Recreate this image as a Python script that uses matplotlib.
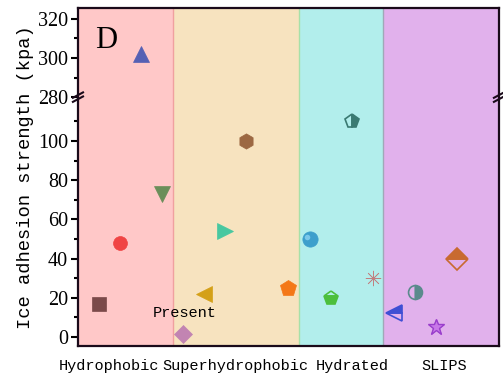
import numpy as np
import matplotlib.pyplot as plt
from matplotlib.ticker import FixedLocator

# data
groups = ['Hydrophobic', 'Superhydrophobic', 'Hydrated', 'SLIPS']
group_bounds = [0, 4.5, 10.5, 14.5, 20]
group_label_x = [1.45, 7.5, 13.05, 17.4]
group_colors = ['#ffc8c8', '#f7e3bf', '#b2eeec', '#e1b1ec']
group_edges = ['#f0a0a0', '#a8e0a8', '#a0a8b8', '#502060']

xs = [1, 2, 3, 4, 5, 6, 7, 8, 10, 11, 12, 13, 14, 15, 16, 17, 18]
vals = [17, 48, 302, 73, 1.5, 22, 54, 100, 25, 50, 20, 110, 30, 12, 23, 5, 40]
markers = ['s', 'o', '^', 'v', 'D', '<', '>', 'h', 'p', 'o', 'p', 'p', (8, 2, 0), '<', 'o', '*', 'D']
colors = ['#7b4a4a', '#f04444', '#5560b4', '#6b8e5a', '#c284b2', '#d4a017', '#48c8a0',
          '#9c6842', '#f47818', '#3d9fcc', '#4cbf3c', '#3a7a72', '#c08080', '#3f4fd4',
          '#5a8a8c', '#a64fd6', '#c86a30']
fills = ['full'] * 10 + ['bottom', 'right', 'full', 'top', 'right', 'full', 'top']
sizes = [10, 10, 11, 11, 9, 12, 12, 11, 12, 11, 10, 10, 11, 11, 10, 12, 11]

# broken axis: 280..325 drawn right above 122.4
brk_low, brk_high = 122.4, 280


def tr(v):
    v = np.asarray(v, dtype=float)
    return np.where(v > brk_low, v - brk_high + brk_low, v)


major = [0, 20, 40, 60, 80, 100, 280, 300, 320]
minor = [10, 30, 50, 70, 90, 110, 290, 310]

mono = 'Liberation Mono'
serif = 'Liberation Serif'

fig = plt.figure(figsize=(5.03, 3.79), dpi=100)
ax = fig.add_axes([0.155, 0.087, 0.837, 0.892])

for i in range(4):
    ax.axvspan(group_bounds[i], group_bounds[i + 1], facecolor=group_colors[i],
               edgecolor='none', zorder=0)
for i in range(1, 4):
    ax.axvline(group_bounds[i], color=group_edges[i - 1], lw=1, zorder=0.5)

ty = tr(vals)
for x, y, m, c, f, s in zip(xs, ty, markers, colors, fills, sizes):
    ax.plot(x, y, marker=m, ms=s, color=c, mfc=c, mec=c, fillstyle=f,
            mfcalt='none', ls='none', mew=1.2 if f != 'full' else 0.5, zorder=3)

# glossy highlight on the sphere
ax.plot(xs[9] - 0.1, ty[9] + 1.2, 'o', ms=4, color='#7cc8ea', mec='none', zorder=4)
# lighter fill for star
ax.plot(xs[15], ty[15], '*', ms=12, mfc='#c878e8', mec='#9a3fcc', mew=1, zorder=4)

ax.text(5.05, 12.5, 'Present', family=mono, fontsize=11, ha='center', va='center')
ax.text(0.8, 151.5, 'D', family=serif, fontsize=22, ha='left', va='center')

ax.set_xlim(0, 20)
ax.set_ylim(-4.6, 167.9)
ax.set_xticks(group_label_x)
ax.set_xticklabels(groups, family=mono, fontsize=11)
ax.tick_params(axis='x', length=0, pad=9)

ax.yaxis.set_major_locator(FixedLocator(tr(major)))
ax.yaxis.set_minor_locator(FixedLocator(tr(minor)))
ax.set_yticklabels([str(v) for v in major], family=serif, fontsize=14.5)
ax.tick_params(axis='y', which='major', length=5, width=1.5, direction='out', pad=2)
ax.tick_params(axis='y', which='minor', length=3, width=1.5, direction='out')
ax.set_ylabel('Ice adhesion strength (kpa)', family=mono, fontsize=13.5, labelpad=3)

for side in ['left', 'right', 'top', 'bottom']:
    ax.spines[side].set_linewidth(1.6)
    ax.spines[side].set_color('#1a0a1a')

# break marks on both spines
yb = (brk_low + 4.6) / (167.9 + 4.6)
for xb in [0, 1]:
    for dy in [-0.006, 0.006]:
        ax.plot([xb - 0.012, xb + 0.012], [yb + dy - 0.008, yb + dy + 0.008],
                transform=ax.transAxes, color='#1a0a1a', lw=1.5, clip_on=False, zorder=5)

fig.savefig('out.png', dpi=100)
